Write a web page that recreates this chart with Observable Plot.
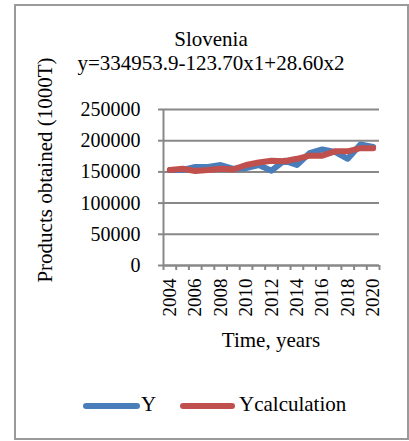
<!DOCTYPE html>
<html>
<head>
<meta charset="utf-8">
<script src="https://cdn.jsdelivr.net/npm/d3@7"></script>
<script src="https://cdn.jsdelivr.net/npm/@observablehq/plot@0.6"></script>
<style>
  body { margin: 0; background: #fff; font-family: "Liberation Serif", "Times New Roman", serif; }
  #wrap { position: relative; width: 409px; height: 441px; overflow: hidden; }
  #frame { position: absolute; left: 14px; top: 4px; width: 391px; height: 432px; border: 2px solid #9a9a9a; }
  .t { position: absolute; color: #000; white-space: nowrap; font-size: 21px; }
  #chart { position: absolute; left: 0; top: 0; }
  #chart svg, #chart svg text { font-family: "Liberation Serif", "Times New Roman", serif !important; }
</style>
</head>
<body>
<div id="wrap">
  <div id="frame"></div>
  <div id="chart"></div>
  <div class="t" id="title" style="left:0;width:422px;text-align:center;top:27px;">Slovenia</div>
  <div class="t" id="eq" style="left:0;width:422px;text-align:center;top:51px;">y=334953.9-123.70x1+28.60x2</div>
  <div class="t" id="ylab" style="left:45px;top:170px;transform:translate(-50%,-50%) rotate(-90deg);">Products obtained (1000T)</div>
  <div class="t" id="xlab" style="left:271px;top:328px;transform:translateX(-50%);">Time, years</div>
  <div id="legend"></div>
</div>
<script>
const years = [2004,2005,2006,2007,2008,2009,2010,2011,2012,2013,2014,2015,2016,2017,2018,2019,2020];
const yActual = [153000,153000,158000,158000,161000,155000,156000,161000,152000,168000,161000,180000,186000,182000,171000,194000,190000];
const yCalc = [153000,155000,151500,153000,155000,154000,161000,165000,168000,167000,171000,176000,176000,183000,183000,188000,188000];
const yTicks = [0,50000,100000,150000,200000,250000];
const xLabelTicks = [2004,2006,2008,2010,2012,2014,2016,2018,2020];
const seriesNames = ["Y","Ycalculation"];
const seriesColors = ["#4a7ebb","#c0504d"];

const data = [];
years.forEach((yr,i)=>{
  data.push({year: yr, value: yActual[i], series: seriesNames[0]});
  data.push({year: yr, value: yCalc[i], series: seriesNames[1]});
});
const boundaries = d3.range(years[0]-0.5, years[years.length-1]+1, 1);
const gray = "#888888";
const serif = "Liberation Serif";

const plot = Plot.plot({
  width: 409,
  height: 360,
  marginLeft: 163,
  marginRight: 30,
  marginTop: 109,
  marginBottom: 95,
  style: {fontFamily: serif, fontSize: "19px", color: "#000", background: "transparent", overflow: "visible"},
  x: {domain: [years[0]-0.5, years[years.length-1]+0.5]},
  y: {domain: [0, 250000]},
  color: {domain: seriesNames, range: seriesColors},
  marks: [
    Plot.gridY(yTicks, {stroke: gray, strokeOpacity: 1, strokeWidth: 2}),
    Plot.ruleX([years[0]-0.5], {stroke: gray, strokeWidth: 2}),
    Plot.ruleY([0], {stroke: gray, strokeWidth: 2}),
    Plot.axisY(yTicks, {tickSize: 5, tickPadding: 18, stroke: gray, strokeWidth: 2, tickFormat: d => String(d), label: null, fill: "#000", fontSize: 20, fontFamily: serif}),
    Plot.axisX(boundaries, {tickSize: 5, stroke: gray, strokeWidth: 2, tickFormat: () => "", label: null}),
    Plot.axisX(xLabelTicks, {tickSize: 0, tickPadding: 13, tickRotate: -90, tickFormat: d => String(d), label: null, fill: "#000", fontSize: 19, fontFamily: serif}),
    Plot.line(data, {x: "year", y: "value", z: "series", stroke: "series", strokeWidth: 6, strokeLinejoin: "round", strokeLinecap: "round"})
  ]
});
document.getElementById("chart").appendChild(plot);

// legend
const leg = document.getElementById("legend");
const legItems = [
  {name: seriesNames[0], color: seriesColors[0], x0: 83, x1: 140, tx: 141},
  {name: seriesNames[1], color: seriesColors[1], x0: 180, x1: 235, tx: 239}
];
legItems.forEach(it => {
  const ln = document.createElement("div");
  ln.style.cssText = `position:absolute;left:${it.x0}px;top:403px;width:${it.x1-it.x0}px;height:6px;border-radius:3px;background:${it.color};`;
  leg.appendChild(ln);
  const tx = document.createElement("div");
  tx.className = "t";
  tx.style.cssText = `left:${it.tx}px;top:392px;`;
  tx.textContent = it.name;
  leg.appendChild(tx);
});
</script>
</body>
</html>
